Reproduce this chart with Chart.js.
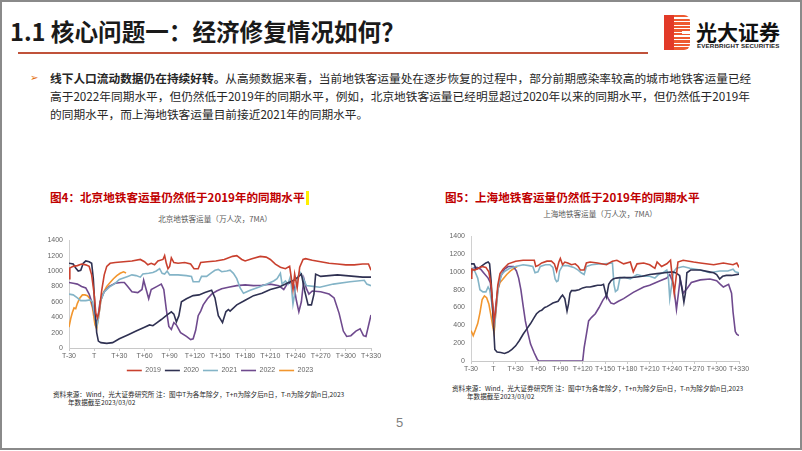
<!DOCTYPE html>
<html><head><meta charset="utf-8">
<script src="https://cdn.jsdelivr.net/npm/chart.js@4.4.0/dist/chart.umd.min.js"></script>
<style>
html,body{margin:0;padding:0;background:#fff;}
body{width:802px;height:451px;position:relative;overflow:hidden;font-family:"Noto Sans CJK SC","Noto Sans",sans-serif;}
.abs{position:absolute;white-space:nowrap;}
#frame{position:absolute;left:0;top:0;width:802px;height:450px;border:2px solid #8a8a8a;box-sizing:border-box;}
#title{left:10px;top:17px;font-size:23.6px;line-height:28px;font-weight:700;color:#1a1a1a;}
#rule{left:18px;top:52px;width:630px;height:2px;background:#c0523a;}
#logoA{left:664px;top:15px;width:10px;height:35px;background:#e23a28;}
#logoB{left:674px;top:15px;width:16px;height:35px;background:repeating-linear-gradient(to bottom,#ee5a30 0 2.4px,#fff 2.4px 3.6px);border-radius:0 6px 6px 0;}
#logoC{left:682px;top:31px;width:8px;height:3px;background:#fff;}
#brand{left:696px;top:18px;font-size:21px;line-height:26px;font-weight:700;color:#111;}
#brandEn{left:697px;top:42px;font-family:"Liberation Sans",sans-serif;font-size:6.2px;line-height:8px;font-weight:700;color:#222;letter-spacing:0.15px;}
#bullet{left:30px;top:70px;font-family:"DejaVu Sans";font-size:10px;line-height:16px;color:#e36c09;}
.para{left:50px;font-size:11.7px;line-height:18px;color:#262626;}
.ftitle{font-size:11.6px;line-height:16px;font-weight:700;color:#c00000;}
.cursor{display:inline-block;width:3px;height:14px;background:#ffef00;vertical-align:-3px;margin-left:1px;}
.ctitle{font-size:7.6px;line-height:10px;color:#595959;transform:translateX(-50%);}
.src{font-size:6.6px;line-height:8px;color:#262626;}
#pnum{left:396px;top:415px;font-family:"Liberation Sans",sans-serif;font-size:13px;line-height:16px;color:#7f7f7f;}
canvas{position:absolute;}
</style></head>
<body>
<div id="frame"></div>
<div class="abs" id="title">1.1 核心问题一：经济修复情况如何？</div>
<div class="abs" id="rule"></div>
<div class="abs" id="logoA"></div><div class="abs" id="logoB"></div><div class="abs" id="logoC"></div>
<div class="abs" id="brand">光大证券</div>
<div class="abs" id="brandEn">EVERBRIGHT SECURITIES</div>
<div class="abs" id="bullet">➢</div>
<div class="abs para" style="top:69px"><b>线下人口流动数据仍在持续好转。</b>从高频数据来看，当前地铁客运量处在逐步恢复的过程中，部分前期感染率较高的城市地铁客运量已经</div>
<div class="abs para" style="top:87px">高于2022年同期水平，但仍然低于2019年的同期水平，例如，北京地铁客运量已经明显超过2020年以来的同期水平，但仍然低于2019年</div>
<div class="abs para" style="top:105px">的同期水平，而上海地铁客运量目前接近2021年的同期水平。</div>

<div class="abs ftitle" style="left:50px;top:189px">图4：北京地铁客运量仍然低于2019年的同期水平<span class="cursor"></span></div>
<div class="abs ftitle" style="left:445px;top:189px">图5：上海地铁客运量仍然低于2019年的同期水平</div>
<div class="abs ctitle" style="left:215px;top:214px">北京地铁客运量（万人次，7MA）</div>
<div class="abs ctitle" style="left:600px;top:209px">上海地铁客运量（万人次，7MA）</div>

<canvas id="bj" width="355" height="154" style="left:30px;top:230px"></canvas>
<canvas id="sh" width="321" height="150" style="left:432px;top:226px"></canvas>

<div class="abs src" style="left:53px;top:390px">资料来源：Wind，光大证券研究所 注：图中T为各年除夕，T+n为除夕后n日，T-n为除夕前n日,2023</div>
<div class="abs src" style="left:68px;top:398px">年数据截至2023/03/02</div>
<div class="abs src" style="left:452px;top:384px">资料来源：Wind，光大证券研究所 注：图中T为各年除夕，T+n为除夕后n日，T-n为除夕前n日,2023</div>
<div class="abs src" style="left:467px;top:392px">年数据截至2023/03/02</div>
<div class="abs" id="pnum">5</div>

<script>
// ---- tick labels & categories ----
const xTickValues = [-30,0,30,60,90,120,150,180,210,240,270,300,330];
const xTickLabels = ['T-30','T','T+30','T+60','T+90','T+120','T+150','T+180','T+210','T+240','T+270','T+300','T+330'];
const yTickValues = [0,200,400,600,800,1000,1200,1400];
const seriesNames = ['2019','2020','2021','2022','2023'];
const seriesColors = ['#c9402e','#2f3152','#84b4c7','#6f4a8e','#f2962e'];

// ---- Beijing (day offset vs. T, 万人次) ----
const bj2019 = [[-30,900],[-29,1040],[-25,1060],[-20,1070],[-15,1090],[-10,1080],[-6,1060],[-3,950],[0,700],[2,450],[4,390],[6,480],[9,750],[12,950],[15,1060],[19,1100],[25,1110],[35,1120],[45,1130],[55,1150],[60,1120],[64,1080],[68,1100],[72,1080],[76,1130],[82,1150],[84,1200],[86,1100],[88,1030],[90,1060],[92,1170],[95,1110],[100,1100],[108,1110],[115,1090],[119,1030],[124,1030],[127,1110],[135,1120],[145,1130],[155,1150],[165,1190],[170,1200],[176,1150],[180,1130],[188,1160],[198,1190],[205,1180],[210,1150],[216,1090],[222,1050],[228,1030],[233,1060],[237,760],[239,960],[242,780],[245,1050],[249,1150],[252,1160],[260,1140],[270,1120],[280,1100],[290,1090],[300,1080],[310,1080],[320,1090],[327,1090],[330,1010]];
const bj2020 = [[-30,1100],[-25,1090],[-22,1040],[-19,1000],[-16,1010],[-13,1100],[-10,1130],[-6,1120],[-3,1100],[-1,900],[1,500],[3,200],[5,90],[8,70],[15,60],[22,70],[30,120],[40,170],[50,220],[60,270],[66,300],[70,290],[75,330],[80,370],[87,430],[92,470],[95,440],[98,340],[101,420],[104,600],[110,640],[118,680],[125,690],[132,720],[140,750],[144,650],[148,420],[153,330],[157,470],[160,500],[162,480],[170,560],[180,620],[190,680],[200,710],[210,760],[220,790],[230,840],[238,880],[243,920],[247,960],[251,740],[255,560],[259,560],[262,700],[264,960],[270,930],[280,940],[290,950],[300,940],[310,930],[320,920],[330,920]];
const bj2021 = [[-30,700],[-25,690],[-20,650],[-16,615],[-10,615],[-5,625],[-2,600],[1,400],[3,280],[5,380],[8,620],[12,730],[18,790],[25,840],[30,890],[35,910],[40,930],[45,950],[50,940],[55,920],[58,960],[65,970],[70,980],[74,1000],[78,1030],[81,970],[84,960],[87,1000],[90,950],[100,950],[110,940],[116,930],[118,860],[125,860],[128,930],[134,930],[140,980],[144,1010],[148,1020],[152,990],[158,1000],[162,1010],[166,970],[170,900],[174,780],[178,710],[186,750],[196,790],[206,830],[214,870],[218,900],[222,970],[224,830],[228,870],[231,830],[234,930],[237,570],[240,770],[243,930],[245,990],[248,930],[253,810],[261,800],[269,790],[285,830],[305,860],[322,880],[325,830],[330,810]];
const bj2022 = [[-30,850],[-25,840],[-20,830],[-15,800],[-10,780],[-6,700],[-3,600],[0,450],[2,340],[4,360],[7,600],[12,730],[18,800],[25,840],[32,850],[36,850],[40,800],[45,730],[52,720],[57,760],[59,880],[62,760],[65,640],[68,760],[75,800],[80,830],[83,760],[86,500],[89,280],[92,240],[95,330],[98,300],[103,200],[110,150],[115,110],[118,120],[121,230],[124,420],[127,480],[130,560],[135,640],[140,700],[146,740],[152,770],[160,790],[170,810],[180,820],[190,810],[200,815],[210,830],[220,810],[226,760],[230,830],[235,850],[238,820],[241,620],[244,470],[247,600],[250,900],[253,770],[256,700],[260,740],[270,730],[280,700],[286,650],[292,450],[297,220],[301,150],[306,160],[312,220],[317,250],[321,160],[324,150],[330,430]];
const bj2023 = [[-30,270],[-28,380],[-26,460],[-24,520],[-22,510],[-20,580],[-17,650],[-14,690],[-11,690],[-8,680],[-5,640],[-2,520],[1,300],[3,250],[5,380],[8,620],[11,720],[15,800],[19,850],[23,900],[27,940],[31,970],[35,990],[38,975]];

// ---- Shanghai ----
const sh2019 = [[-30,930],[-29,1030],[-25,1020],[-20,1040],[-15,1060],[-10,1050],[-6,1000],[-3,850],[-1,650],[1,440],[3,550],[6,850],[9,980],[13,1030],[20,1090],[30,1120],[40,1130],[50,1130],[55,1130],[57,1060],[60,1070],[65,1100],[72,1120],[78,1120],[82,1090],[85,1010],[88,1110],[90,1150],[93,1080],[96,1110],[100,1100],[105,1080],[110,1090],[114,1060],[117,1020],[122,1020],[125,1100],[130,1110],[140,1100],[152,1080],[160,1120],[166,1130],[175,1090],[184,1110],[188,1000],[193,1090],[202,1100],[210,1080],[217,1040],[220,1110],[226,1060],[233,1090],[238,1130],[240,970],[243,760],[245,900],[248,1110],[255,1130],[269,1110],[278,1100],[296,1080],[309,1100],[322,1080],[327,1100],[330,1050]];
const sh2020 = [[-30,1090],[-26,1090],[-23,1030],[-20,1040],[-15,1070],[-10,1100],[-7,1110],[-5,1090],[-3,900],[0,450],[2,130],[5,100],[10,95],[15,85],[20,100],[25,130],[30,170],[35,230],[40,300],[45,360],[50,420],[55,490],[58,530],[62,560],[65,570],[69,600],[72,610],[76,630],[80,650],[87,670],[91,720],[93,740],[96,700],[99,560],[101,640],[103,760],[105,790],[110,790],[115,800],[120,820],[125,830],[130,830],[135,840],[140,850],[145,850],[148,860],[152,720],[155,860],[158,900],[161,920],[165,930],[170,935],[180,935],[190,940],[200,950],[210,970],[220,980],[230,990],[240,1000],[245,990],[250,960],[253,830],[256,660],[258,760],[260,990],[265,1020],[278,1020],[290,1000],[296,990],[300,970],[304,920],[308,950],[313,960],[320,960],[330,975]];
const sh2021 = [[-30,960],[-27,1040],[-24,990],[-21,930],[-18,800],[-14,775],[-10,775],[-7,830],[-5,800],[-2,650],[0,480],[2,420],[4,600],[7,850],[11,970],[16,1010],[22,1040],[30,1060],[40,1080],[48,1070],[53,1060],[56,990],[60,1000],[63,1060],[70,1080],[76,1080],[80,1050],[83,920],[85,890],[87,900],[89,1010],[93,1070],[100,1070],[108,1050],[114,1020],[118,990],[122,970],[125,1060],[132,1080],[142,1090],[150,1090],[160,1100],[162,860],[164,780],[167,800],[170,930],[176,940],[184,920],[193,970],[202,950],[210,950],[217,930],[222,970],[228,990],[233,1020],[235,950],[237,700],[239,820],[242,1000],[246,1040],[255,1060],[264,1040],[278,1020],[291,990],[304,1010],[315,1010],[322,1030],[325,1000],[330,990]];
const sh2022 = [[-30,1010],[-27,1040],[-22,1050],[-17,1030],[-12,980],[-7,930],[-4,880],[-2,700],[0,520],[1,420],[3,600],[6,800],[10,950],[15,1030],[20,1060],[27,1060],[31,1010],[34,930],[37,800],[40,620],[43,450],[46,330],[50,190],[55,90],[59,20],[61,0],[120,0],[122,150],[125,300],[128,450],[132,490],[137,530],[142,600],[147,680],[152,740],[155,690],[158,650],[162,640],[168,670],[175,700],[188,770],[202,830],[210,850],[224,900],[233,930],[237,970],[242,860],[246,580],[251,920],[255,760],[260,810],[266,880],[278,910],[291,920],[300,900],[305,860],[309,830],[316,860],[320,760],[322,550],[325,330],[327,300],[330,285]];
const sh2023 = [[-30,340],[-27,285],[-24,350],[-21,420],[-18,540],[-15,690],[-12,730],[-9,710],[-6,640],[-3,500],[-1,400],[1,310],[3,520],[6,800],[9,880],[13,920],[18,970],[23,1010],[28,1040],[32,1060]];

Chart.defaults.font.family = '"Liberation Sans", Arial, sans-serif';
Chart.defaults.color = '#595959';

function toXY(arr){ return arr.map(p => ({x:p[0], y:p[1]})); }
function makeDatasets(list){
  return list.map((arr,i) => ({
    label: seriesNames[i], data: toXY(arr),
    borderColor: seriesColors[i], backgroundColor: seriesColors[i],
    borderWidth: 1.6, pointRadius: 0, tension: 0, pointStyle: 'line'
  }));
}
function makeChart(id, list, showLegend, yW){
  return new Chart(document.getElementById(id), {
    type: 'line',
    data: { datasets: makeDatasets(list) },
    options: {
      responsive: false, animation: false, devicePixelRatio: 1,
      layout: { padding: { top: 6, right: 14, left: 0, bottom: 0 } },
      plugins: {
        legend: { display: showLegend, position: 'bottom', fullSize: false,
          labels: { usePointStyle: true, pointStyle: 'line', pointStyleWidth: 15, boxHeight: 7,
                    padding: 4, font: { size: 7 }, color: '#666666' } },
        tooltip: { enabled: false }
      },
      scales: {
        x: { type: 'linear', min: -30, max: 330,
          afterBuildTicks: s => { s.ticks = xTickValues.map(v => ({value: v})); },
          afterFit: s => { s.height = 15; },
          ticks: { autoSkip: false, maxRotation: 0, padding: 1, font: { size: 7 }, color: '#666666',
                   callback: v => xTickLabels[xTickValues.indexOf(v)] },
          grid: { drawOnChartArea: false, drawTicks: true, tickLength: 3, color: '#c8c8c8' },
          border: { display: true, color: '#c8c8c8', width: 1 } },
        y: { min: 0, max: 1400,
          afterBuildTicks: s => { s.ticks = yTickValues.map(v => ({value: v})); },
          afterFit: s => { s.width = yW; },
          ticks: { padding: 6, font: { size: 7 }, color: '#666666', callback: v => String(v) },
          grid: { display: false, drawTicks: false },
          border: { display: true, color: '#d0d0d0', width: 1 } }
      }
    }
  });
}
makeChart('bj', [bj2019, bj2020, bj2021, bj2022, bj2023], true, 39);
makeChart('sh', [sh2019, sh2020, sh2021, sh2022, sh2023], false, 39);
</script>
</body></html>
